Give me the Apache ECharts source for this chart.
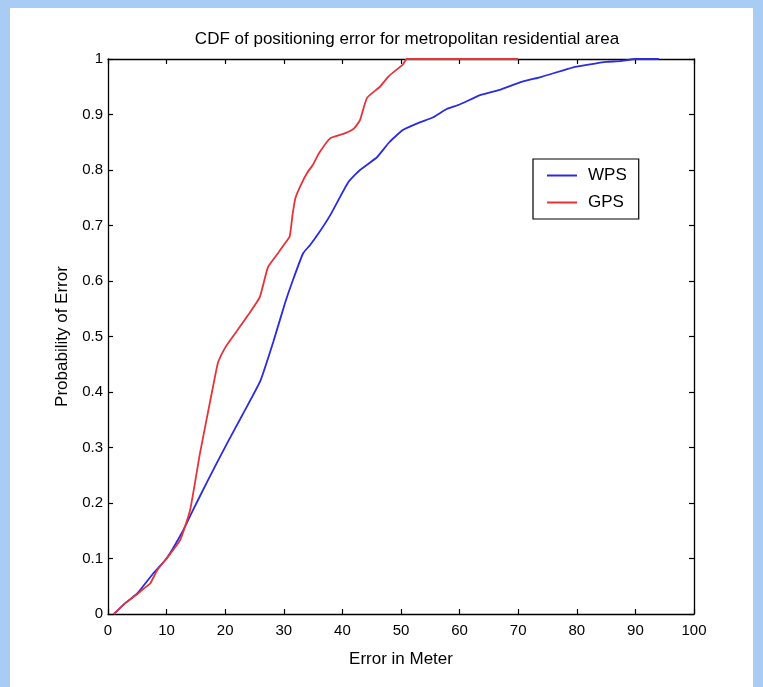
<!DOCTYPE html>
<html>
<head>
<meta charset="utf-8">
<script src="https://cdn.jsdelivr.net/npm/echarts@6/dist/echarts.min.js"></script>
<style>
  html, body { margin: 0; padding: 0; background: #a9ccf5; }
  #frame { position: absolute; left: 10px; top: 8px; width: 743px; height: 679px; background: #fff; }
  #chart { position: absolute; left: 0; top: 0; width: 763px; height: 687px; }
</style>
</head>
<body>
<div id="frame"></div>
<div id="chart"></div>
<script>
// error in meters / cumulative probability
var wpsX = [1, 3, 5, 7.7, 10, 12.8, 14.5, 17, 20.3, 23, 26, 28.2, 30.2, 31.5, 33.3, 34.5, 36.2, 38, 41, 43, 45.9, 48, 50.3, 53, 55.5, 57.8, 60, 63.5, 67, 70.3, 74, 79.4, 82, 85, 87.4, 90, 94];
var wpsY = [0, 0.02, 0.037, 0.073, 0.1, 0.15, 0.187, 0.24, 0.307, 0.36, 0.42, 0.49, 0.56, 0.6, 0.65, 0.665, 0.69, 0.72, 0.778, 0.8, 0.823, 0.85, 0.872, 0.885, 0.895, 0.91, 0.918, 0.935, 0.945, 0.958, 0.968, 0.985, 0.99, 0.995, 0.996, 1.0, 1.0];
var gpsX = [1, 3, 4.9, 6, 7.2, 8.4, 10, 12.3, 14, 15.7, 17, 18.3, 18.8, 20, 22, 24, 25.9, 27.3, 29, 30, 31, 31.5, 32, 33, 34, 35, 36, 37.9, 40.4, 42, 43, 44.2, 46.4, 48, 50.3, 51, 60, 70];
var gpsY = [0, 0.02, 0.035, 0.045, 0.055, 0.079, 0.1, 0.133, 0.187, 0.29, 0.36, 0.43, 0.454, 0.48, 0.51, 0.54, 0.571, 0.625, 0.65, 0.665, 0.68, 0.72, 0.75, 0.775, 0.795, 0.81, 0.83, 0.857, 0.866, 0.875, 0.89, 0.93, 0.95, 0.97, 0.99, 1.0, 1.0, 1.0];

function pairs(xs, ys) {
    return xs.map(function (x, i) { return [x, ys[i]]; });
}

var font = 'Liberation Sans, Arial, sans-serif';
var axisLine = { show: true, onZero: false, lineStyle: { color: '#000', width: 1.3 } };
var tick = { show: true, inside: true, length: 5, lineStyle: { color: '#000', width: 1.2 } };

var myChart = echarts.init(document.getElementById('chart'));
myChart.setOption({
    animation: false,
    textStyle: { fontFamily: font, color: '#000' },
    title: {
        text: 'CDF of positioning error for metropolitan residential area',
        left: 402,
        textAlign: 'center',
        top: 26,
        textStyle: { fontSize: 17, fontWeight: 'normal', color: '#000', fontFamily: font }
    },
    legend: {
        orient: 'vertical',
        left: 533,
        top: 159,
        padding: [8, 12, 8, 14],
        itemGap: 10,
        itemWidth: 30,
        itemHeight: 2,
        icon: 'rect',
        borderColor: '#000',
        borderWidth: 1.2,
        textStyle: { fontSize: 17, color: '#000', fontFamily: font, padding: [0, 0, 0, 6] },
        data: ['WPS', 'GPS']
    },
    grid: { left: 108, right: 69, top: 59, bottom: 73 },
    xAxis: [
        {
            type: 'value', min: 0, max: 100, interval: 10,
            name: 'Error in Meter', nameLocation: 'middle', nameGap: 37,
            nameTextStyle: { fontSize: 17, color: '#000' },
            axisLine: axisLine, axisTick: tick, splitLine: { show: false },
            axisLabel: { fontSize: 15, color: '#000', margin: 9 }
        },
        {
            type: 'value', min: 0, max: 100, interval: 10, position: 'top',
            axisLine: axisLine, axisTick: tick, splitLine: { show: false },
            axisLabel: { show: false }
        }
    ],
    yAxis: [
        {
            type: 'value', min: 0, max: 1, interval: 0.1,
            name: 'Probability of Error', nameLocation: 'middle', nameGap: 35,
            nameTextStyle: { fontSize: 17, color: '#000' },
            axisLine: axisLine, axisTick: tick, splitLine: { show: false },
            axisLabel: { fontSize: 15, color: '#000', margin: 5 }
        },
        {
            type: 'value', min: 0, max: 1, interval: 0.1, position: 'right',
            axisLine: axisLine, axisTick: tick, splitLine: { show: false },
            axisLabel: { show: false }
        }
    ],
    series: [
        {
            name: 'WPS', type: 'line', showSymbol: false, smooth: 0.15,
            color: '#2b2be0', lineStyle: { width: 1.8 },
            data: pairs(wpsX, wpsY)
        },
        {
            name: 'GPS', type: 'line', showSymbol: false, smooth: 0.15,
            color: '#e63338', lineStyle: { width: 1.8 },
            data: pairs(gpsX, gpsY)
        }
    ]
});
</script>
</body>
</html>
